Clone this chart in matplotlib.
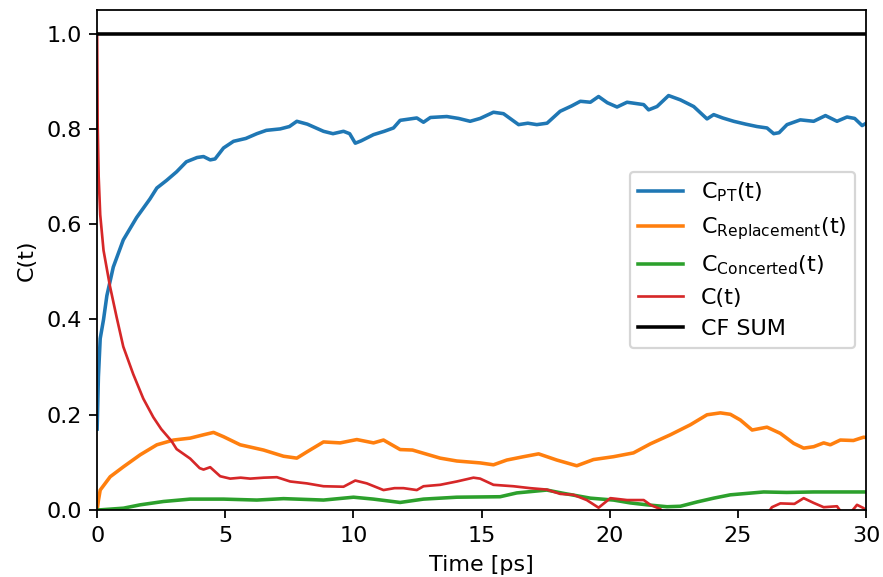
"""Correlation functions C(t) versus time."""

import matplotlib

matplotlib.use("Agg")
import matplotlib.pyplot as plt

plt.rcParams["mathtext.default"] = "regular"

# C_PT(t)
t_pt = [0.0, 0.05, 0.12, 0.25, 0.38, 0.63, 1.02, 1.54, 2.06, 2.33, 2.71, 3.1,
        3.48, 3.9, 4.15, 4.41, 4.6, 4.93, 5.32, 5.8, 6.23, 6.6, 7.14, 7.5,
        7.79, 8.2, 8.83, 9.2, 9.61, 9.85, 10.07, 10.3, 10.78, 11.2, 11.56,
        11.82, 12.47, 12.73, 13.0, 13.64, 14.1, 14.55, 14.94, 15.46, 15.85,
        16.44, 16.8, 17.15, 17.55, 18.06, 18.5, 18.85, 19.24, 19.56, 19.9,
        20.28, 20.67, 21.32, 21.51, 21.84, 22.29, 22.75, 23.27, 23.79, 24.05,
        24.4, 24.83, 25.3, 25.74, 26.13, 26.39, 26.6, 26.91, 27.43, 27.95,
        28.41, 28.86, 29.25, 29.55, 29.84, 30.0]
c_pt = [0.17, 0.28, 0.36, 0.40, 0.45, 0.51, 0.567, 0.614, 0.653, 0.676, 0.692,
        0.71, 0.731, 0.74, 0.742, 0.735, 0.737, 0.760, 0.774, 0.78, 0.790,
        0.797, 0.800, 0.805, 0.816, 0.81, 0.795, 0.79, 0.795, 0.79, 0.770,
        0.775, 0.788, 0.795, 0.802, 0.818, 0.823, 0.814, 0.824, 0.826, 0.822,
        0.816, 0.822, 0.835, 0.832, 0.809, 0.812, 0.809, 0.812, 0.837, 0.848,
        0.858, 0.856, 0.868, 0.855, 0.846, 0.856, 0.851, 0.840, 0.847, 0.870,
        0.861, 0.847, 0.821, 0.830, 0.823, 0.816, 0.81, 0.805, 0.802, 0.790,
        0.792, 0.809, 0.819, 0.816, 0.828, 0.816, 0.825, 0.822, 0.807, 0.812]

# C_Replacement(t)
t_rep = [0.0, 0.05, 0.12, 0.51, 1.03, 1.68, 2.33, 2.98, 3.63, 4.15, 4.54,
         4.93, 5.58, 6.49, 7.27, 7.79, 8.18, 8.83, 9.48, 10.13, 10.78, 11.17,
         11.82, 12.3, 13.38, 14.03, 14.94, 15.46, 15.98, 16.63, 17.22, 17.93,
         18.71, 19.36, 20.14, 20.92, 21.58, 22.36, 23.14, 23.79, 24.31, 24.7,
         25.09, 25.55, 26.13, 26.65, 27.17, 27.56, 27.95, 28.34, 28.6, 28.99,
         29.5, 29.9, 30.0]
c_rep = [0.0, 0.02, 0.042, 0.070, 0.091, 0.116, 0.137, 0.147, 0.151, 0.158,
         0.163, 0.154, 0.137, 0.126, 0.113, 0.109, 0.122, 0.143, 0.141, 0.148,
         0.141, 0.147, 0.127, 0.126, 0.109, 0.103, 0.099, 0.095, 0.105, 0.112,
         0.118, 0.105, 0.093, 0.106, 0.112, 0.120, 0.139, 0.158, 0.179, 0.200,
         0.204, 0.201, 0.189, 0.168, 0.174, 0.161, 0.140, 0.130, 0.133, 0.141,
         0.137, 0.147, 0.146, 0.153, 0.152]

# C_Concerted(t)
t_con = [0.0, 1.03, 1.68, 2.59, 3.63, 4.93, 6.23, 7.27, 8.83, 10.0, 10.78,
         11.82, 12.73, 14.03, 15.72, 16.37, 17.54, 18.2, 19.24, 20.14, 20.8,
         21.45, 22.23, 22.75, 23.4, 24.05, 24.7, 25.35, 26.0, 26.9, 27.95, 30.0]
c_con = [0.0, 0.004, 0.011, 0.018, 0.023, 0.023, 0.021, 0.024, 0.021, 0.027,
         0.023, 0.016, 0.023, 0.027, 0.028, 0.036, 0.042, 0.035, 0.025, 0.021,
         0.015, 0.011, 0.007, 0.008, 0.017, 0.025, 0.032, 0.035, 0.038, 0.037,
         0.038, 0.038]

# C(t)
t_c = [0.0, 0.02, 0.06, 0.12, 0.25, 0.5, 0.76, 1.02, 1.41, 1.8, 2.19, 2.5,
       2.9, 3.1, 3.63, 4.0, 4.15, 4.41, 4.8, 5.19, 5.6, 5.97, 6.5, 7.01, 7.53,
       8.18, 8.83, 9.61, 10.07, 10.52, 11.17, 11.6, 11.95, 12.47, 12.73,
       13.38, 14.03, 14.68, 14.94, 15.46, 16.24, 16.89, 17.54, 18.06, 18.58,
       19.1, 19.56, 20.02, 20.67, 21.32, 21.58, 21.97, 22.3, 24.0, 26.0,
       26.32, 26.65, 27.2, 27.56, 27.95, 28.34, 28.86, 29.1, 29.4, 29.64,
       29.9, 30.0]
c_t = [1.0, 0.81, 0.70, 0.62, 0.545, 0.47, 0.405, 0.343, 0.285, 0.234, 0.195,
       0.17, 0.145, 0.128, 0.108, 0.088, 0.085, 0.090, 0.071, 0.066, 0.068,
       0.066, 0.068, 0.069, 0.060, 0.056, 0.050, 0.049, 0.062, 0.056, 0.042,
       0.046, 0.046, 0.042, 0.050, 0.053, 0.060, 0.068, 0.066, 0.053, 0.050,
       0.046, 0.043, 0.034, 0.032, 0.021, 0.005, 0.025, 0.021, 0.021, 0.011,
       0.002, -0.02, -0.04, -0.02, 0.006, 0.014, 0.013, 0.025, 0.015, 0.006,
       0.008, -0.01, -0.005, 0.011, 0.004, -0.005]

# CF SUM
t_sum = [0.0, 30.0]
c_sum = [1.0, 1.0]

fig = plt.figure(figsize=(883 / 160, 577 / 160), dpi=160)
ax = fig.add_axes([0.110, 0.116, 0.871, 0.867])

ax.plot(t_pt, c_pt, color="tab:blue", lw=1.6, label=r"C$_{PT}$(t)")
ax.plot(t_rep, c_rep, color="tab:orange", lw=1.6,
        label=r"C$_{Replacement}$(t)")
ax.plot(t_con, c_con, color="tab:green", lw=1.6, label=r"C$_{Concerted}$(t)")
ax.plot(t_c, c_t, color="tab:red", lw=1.2, label="C(t)")
ax.plot(t_sum, c_sum, color="black", lw=1.6, label="CF SUM")

ax.set_xlim(0, 30)
ax.set_ylim(0, 1.05)
ax.set_xticks([0, 5, 10, 15, 20, 25, 30])
ax.set_yticks([0.0, 0.2, 0.4, 0.6, 0.8, 1.0])
ax.set_xlabel("Time [ps]")
ax.set_ylabel("C(t)")
ax.legend(loc="center right")

fig.savefig("out.png", dpi=160)
